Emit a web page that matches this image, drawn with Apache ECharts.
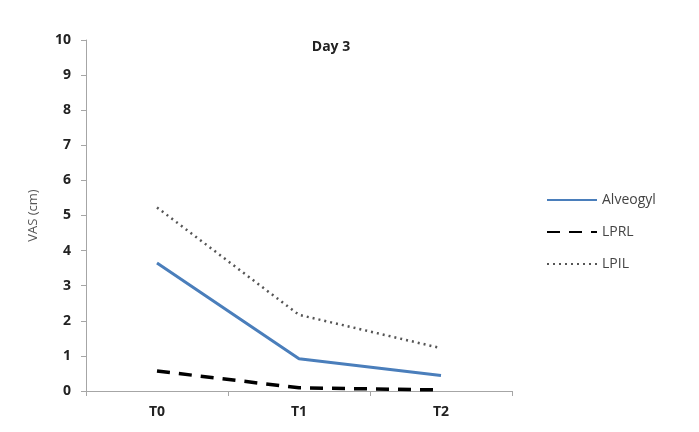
<!DOCTYPE html>
<html>
<head>
<meta charset="utf-8">
<script src="https://cdn.jsdelivr.net/npm/echarts@6/dist/echarts.min.js"></script>
<style>
html,body{margin:0;padding:0;background:#fff;}
#main{width:699px;height:432px;}
</style>
</head>
<body>
<div id="main"></div>
<script>
// Day 3 VAS values
var categories = ['T0', 'T1', 'T2'];
var alveogyl = [3.65, 0.92, 0.44];
var lprl = [0.57, 0.09, 0.03];
var lpil = [5.23, 2.17, 1.22];

var myChart = echarts.init(document.getElementById('main'));
var font = 'Open Sans, Liberation Sans, sans-serif';
var option = {
  backgroundColor: '#fff',
  animation: false,
  title: {
    text: 'Day 3',
    left: 326,
    top: 35,
    textAlign: 'center',
    textStyle: {fontSize: 14, fontWeight: 'bold', color: '#222', fontFamily: font}
  },
  legend: {
    orient: 'vertical',
    left: 541,
    top: 188,
    itemWidth: 50,
    itemHeight: 16,
    itemGap: 18,
    itemStyle: {opacity: 0},
    textStyle: {fontSize: 14, color: '#444', fontFamily: font},
    data: ['Alveogyl', 'LPRL', 'LPIL']
  },
  grid: {left: 86, top: 40, right: 187, bottom: 41},
  xAxis: {
    type: 'category',
    data: categories,
    boundaryGap: true,
    axisLine: {lineStyle: {color: '#a6a6a6'}},
    axisTick: {show: true, length: 5, lineStyle: {color: '#a6a6a6'}},
    axisLabel: {fontSize: 14, fontWeight: 'bold', color: '#222', margin: 14, fontFamily: font}
  },
  yAxis: {
    type: 'value',
    min: 0,
    max: 10,
    interval: 1,
    name: 'VAS (cm)',
    nameLocation: 'middle',
    nameGap: 46,
    nameTextStyle: {fontSize: 13, color: '#555', fontFamily: font},
    axisLine: {show: true, lineStyle: {color: '#a6a6a6'}},
    axisTick: {show: true, length: 5, lineStyle: {color: '#a6a6a6'}},
    splitLine: {show: false},
    axisLabel: {fontSize: 14, fontWeight: 'bold', color: '#222', margin: 15, fontFamily: font}
  },
  series: [
    {
      name: 'Alveogyl',
      type: 'line',
      data: alveogyl,
      symbol: 'none',
      itemStyle: {color: '#4a7ebb'},
      lineStyle: {color: '#4a7ebb', width: 3}
    },
    {
      name: 'LPRL',
      type: 'line',
      data: lprl,
      symbol: 'none',
      itemStyle: {color: '#000'},
      lineStyle: {color: '#000', width: 3.5, type: [13, 9]}
    },
    {
      name: 'LPIL',
      type: 'line',
      data: lpil,
      symbol: 'none',
      itemStyle: {color: '#555'},
      lineStyle: {color: '#555', width: 2.5, type: [2, 4]}
    }
  ]
};
myChart.setOption(option);
</script>
</body>
</html>
